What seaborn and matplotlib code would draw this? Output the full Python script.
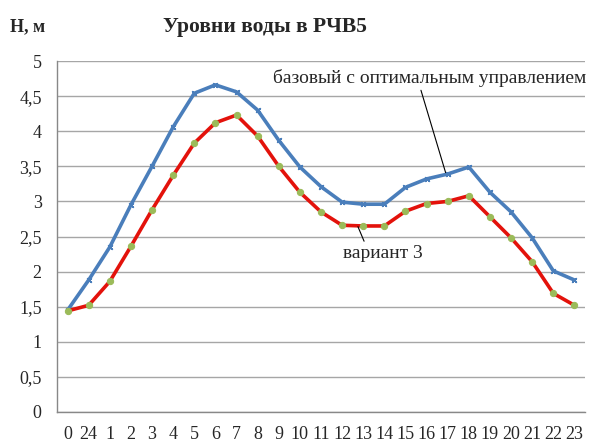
import matplotlib
matplotlib.use("Agg")
import matplotlib.pyplot as plt
import seaborn as sns
import pandas as pd
import numpy as np

hours = ["0", "24", "1", "2", "3", "4", "5", "6", "7", "8", "9", "10", "11", "12",
         "13", "14", "15", "16", "17", "18", "19", "20", "21", "22", "23"]
base_opt = [1.45, 1.88, 2.35, 2.95, 3.50, 4.06, 4.54, 4.66, 4.56, 4.30, 3.87, 3.49,
            3.21, 2.99, 2.96, 2.96, 3.20, 3.32, 3.39, 3.49, 3.13, 2.85, 2.48, 2.01, 1.88]
variant3 = [1.44, 1.52, 1.86, 2.36, 2.88, 3.37, 3.83, 4.12, 4.23, 3.93, 3.50, 3.13,
            2.85, 2.66, 2.65, 2.65, 2.86, 2.97, 3.00, 3.08, 2.78, 2.48, 2.14, 1.69, 1.52]
y_ticks = [0, 0.5, 1, 1.5, 2, 2.5, 3, 3.5, 4, 4.5, 5]
y_labels = ["0", "0,5", "1", "1,5", "2", "2,5", "3", "3,5", "4", "4,5", "5"]

sns.set_style("white")
SERIF = ['Liberation Serif', 'DejaVu Serif']
plt.rcParams['font.family'] = SERIF

df = pd.DataFrame({"pos": np.arange(len(hours)), "base": base_opt, "v3": variant3})

W, H = 598, 443
fig = plt.figure(figsize=(W/100, H/100), dpi=100)
ax = fig.add_axes([57/W, 1-412/H, (585-57)/W, (412-61)/H])

sns.lineplot(data=df, x="pos", y="base", ax=ax, color="#4A7EBB", lw=2.6,
             marker=(4, 2, 45), markersize=4.5, markeredgecolor="#4A7EBB", markeredgewidth=1.1)
sns.lineplot(data=df, x="pos", y="v3", ax=ax, color="#E3120B", lw=2.6,
             marker="o", markersize=4.5, markerfacecolor="#9BBB59", markeredgecolor="#9BBB59")

ax.set_xlim(-0.5, len(hours) - 0.5)
ax.set_ylim(0, 5)
ax.set_yticks(y_ticks)
ax.set_yticklabels(y_labels, fontsize=13, family=SERIF)
ax.set_xticks(np.arange(len(hours)))
ax.set_xticklabels(hours, fontsize=13, family=SERIF)
ax.set_xticks(np.arange(len(hours) + 1) - 0.5, minor=True)
ax.tick_params(axis="x", which="major", length=0, pad=10)
ax.tick_params(axis="x", which="minor", length=5, color="#888888", direction="out")
ax.tick_params(axis="y", length=5, color="#888888", direction="out", pad=6)
ax.grid(axis="y", color="#A6A6A6", lw=1)
ax.set_axisbelow(True)
for s in ["top", "right"]:
    ax.spines[s].set_visible(False)
for s in ["left", "bottom"]:
    ax.spines[s].set_color("#888888")
    ax.spines[s].set_linewidth(1)
ax.set_xlabel("")
ax.set_ylabel("")

fig.text(10/W, 1-27/H, "Н, м", fontsize=13, fontweight="bold", va="center", ha="left",
         family=SERIF)
fig.text(265/W, 1-27/H, "Уровни воды в РЧВ5", fontsize=15.5, fontweight="bold",
         va="center", ha="center", family=SERIF)

ax.annotate("базовый с оптимальным управлением", xy=(17.9, 3.41), xytext=(586, H-78),
            textcoords="figure pixels", fontsize=14, ha="right", va="center", family=SERIF,
            arrowprops=dict(arrowstyle="-", color="black", lw=0.8, shrinkA=0, shrinkB=0,
                            relpos=(0.47, 0)))
ax.annotate("вариант 3", xy=(13.75, 2.64), xytext=(383, H-253),
            textcoords="figure pixels", fontsize=14, ha="center", va="center", family=SERIF,
            arrowprops=dict(arrowstyle="-", color="black", lw=0.8, shrinkA=0, shrinkB=0,
                            relpos=(0.28, 1)))

fig.savefig("out.png", dpi=100)
